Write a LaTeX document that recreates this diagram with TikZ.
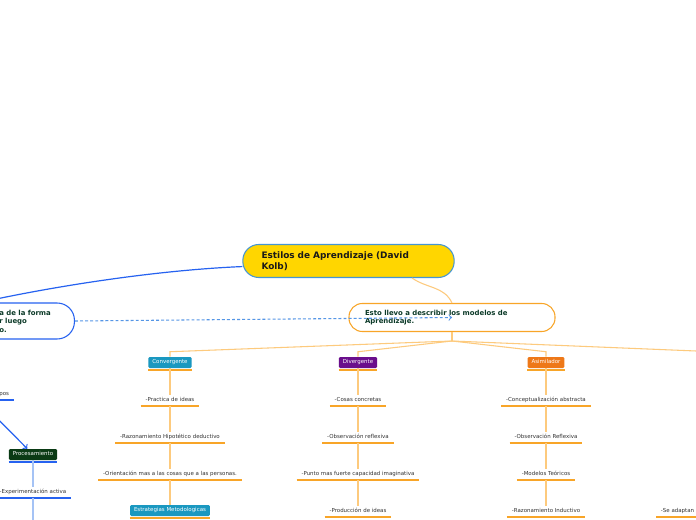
\documentclass[tikz,border=0pt]{standalone}
\usepackage{fontspec}
\setmainfont{DejaVu Sans}
\usepackage{color}
\usepackage{tikz}
\usetikzlibrary{calc}
\definecolor{mapgold}{RGB}{255,214,0}
\definecolor{mapframe}{RGB}{70,150,210}
\definecolor{mapblue}{RGB}{38,98,240}
\definecolor{paleblue}{RGB}{165,195,245}
\definecolor{dashblue}{RGB}{85,150,230}
\definecolor{maporange}{RGB}{248,165,40}
\definecolor{paleorange}{RGB}{253,202,125}
\definecolor{darkgreen}{RGB}{12,58,40}
\definecolor{itemgray}{RGB}{50,50,50}
\definecolor{tealbox}{RGB}{26,152,192}
\definecolor{purplebox}{RGB}{106,14,140}
\definecolor{orangebox}{RGB}{238,120,24}
\definecolor{greenbox}{RGB}{10,58,20}

\begin{document}
\begin{tikzpicture}[x=0.75pt,y=-0.75pt]
\tikzset{item/.style={font=\fontsize{4.1}{5}\selectfont,text=itemgray,inner xsep=3.5pt,inner ysep=2pt,text height=3pt,text depth=0.9pt,
  append after command={(\tikzlastnode.south west) edge[draw=#1,line width=1.2pt] (\tikzlastnode.south east)}},
  item/.default=maporange,
  tag/.style={fill=#1,text=white,font=\fontsize{4.1}{5}\selectfont,rounded corners=1pt,inner xsep=3pt,inner ysep=0pt,minimum height=8.25pt,text height=3pt,text depth=0.9pt},
  uline/.style={append after command={([yshift=-1.3pt]\tikzlastnode.south west) edge[draw=#1,line width=1.2pt,sharp corners] ([yshift=-1.3pt]\tikzlastnode.south east)}},
  trunk/.style={draw=paleorange,line width=0.8pt},
  stem/.style={draw=paleorange,line width=0.8pt},
  blueline/.style={draw=mapblue,line width=0.9pt},
  bluestem/.style={draw=paleblue,line width=0.9pt},
  dashline/.style={draw=dashblue,line width=0.8pt,dash pattern=on 2.2pt off 1.6pt,->}}
\useasboundingbox (0,0) rectangle (696,520);
\clip (0,0) rectangle (696,520);
\fill[white] (0,0) rectangle (696,520);

\node (1) at (348.5,261) [draw=mapframe,fill=mapgold,line width=0.8pt,rounded corners=12pt,text width=130.5pt,inner xsep=14pt,minimum height=24.75pt,align=left,font=\fontsize{6.7}{8.2}\selectfont\bfseries,text=black!90] {Estilos de Aprendizaje (David\\Kolb)};
\node (2) at (452,317.5) [draw=maporange,fill=white,line width=0.8pt,rounded corners=10pt,text width=130.5pt,inner xsep=12pt,minimum height=21pt,align=left,font=\fontsize{5.2}{6}\selectfont\bfseries,text=darkgreen] {Esto llevo a describir los modelos de\\Aprendizaje.};
\node (3) at (75,321) [anchor=east,draw=mapblue,fill=white,line width=0.8pt,rounded corners=13pt,text width=42pt,inner xsep=14.25pt,minimum height=27pt,align=left,font=\fontsize{5.2}{6.4}\selectfont\bfseries,text=darkgreen] {a de la forma\\r luego\\o.};

% Convergente
\node (4) at (170,362.5) [tag=tealbox,uline=maporange] {Convergente};
\node (5) at (170,406) [item,anchor=south] {-Practica de ideas};
\node (6) at (170,443) [item,anchor=south] {-Razonamiento Hipotético deductivo};
\node (7) at (170,480) [item,anchor=south] {-Orientación mas a las cosas que a las personas.};
\node (8) at (170,510.5) [tag=tealbox,uline=maporange] {Estrategias Metodologicas};

% Divergente
\node (9) at (358,362.5) [tag=purplebox,uline=maporange] {Divergente};
\node (10) at (358,406) [item,anchor=south] {-Cosas concretas};
\node (11) at (358,443) [item,anchor=south] {-Observación reflexiva};
\node (12) at (358,480) [item,anchor=south] {-Punto mas fuerte capacidad imaginativa};
\node (13) at (358,517) [item,anchor=south] {-Producción de ideas};

% Asimilador
\node (14) at (546,362.5) [tag=orangebox,uline=maporange] {Asimilador};
\node (15) at (546,406) [item,anchor=south] {-Conceptualización abstracta};
\node (16) at (546,443) [item,anchor=south] {-Observación Reflexiva};
\node (17) at (546,480) [item,anchor=south] {-Modelos Teóricos};
\node (18) at (546,517) [item,anchor=south] {-Razonamiento Inductivo};

\node (19) at (656,517) [item,anchor=south west,text width=50pt,align=left] {-Se adaptan};

% left side
\node (20) at (14,400) [item=mapblue,anchor=south east] {pos};
\node (21) at (33,454.5) [tag=greenbox,uline=mapblue] {Procesamiento};
\node (22) at (33,498) [item=mapblue,anchor=south] {-Experimentación activa};

\coordinate (b) at (452,341);
\coordinate (r) at (745,353);
\coordinate (a) at (-15,406);
\coordinate (d) at (33,530);

\draw[blueline] (1.183) .. controls (160,270) and (60,285) .. (3.north west);
\draw[trunk] (1.-15) to[out=-35,in=115] (2.north);
\draw[dashline] (3.east) -- (2.center);

\draw[trunk] (2.south) -- (b);
\draw[trunk] (b) -- ($(4.north)+(0,-5)$) -- (4.north);
\draw[trunk] (b) -- ($(9.north)+(0,-5)$) -- (9.north);
\draw[trunk] (b) -- ($(14.north)+(0,-5)$) -- (14.north);
\draw[trunk] (b) -- (r);

\path
(4) edge [stem] (5)
(5) edge [stem] (6)
(6) edge [stem] (7)
(7) edge [stem] (8)
(9) edge [stem] (10)
(10) edge [stem] (11)
(11) edge [stem] (12)
(12) edge [stem] (13)
(14) edge [stem] (15)
(15) edge [stem] (16)
(16) edge [stem] (17)
(17) edge [stem] (18)
(a) edge [blueline,->] (21)
(21) edge [bluestem] (22)
(22) edge [bluestem] (d);
\end{tikzpicture}
\end{document}
